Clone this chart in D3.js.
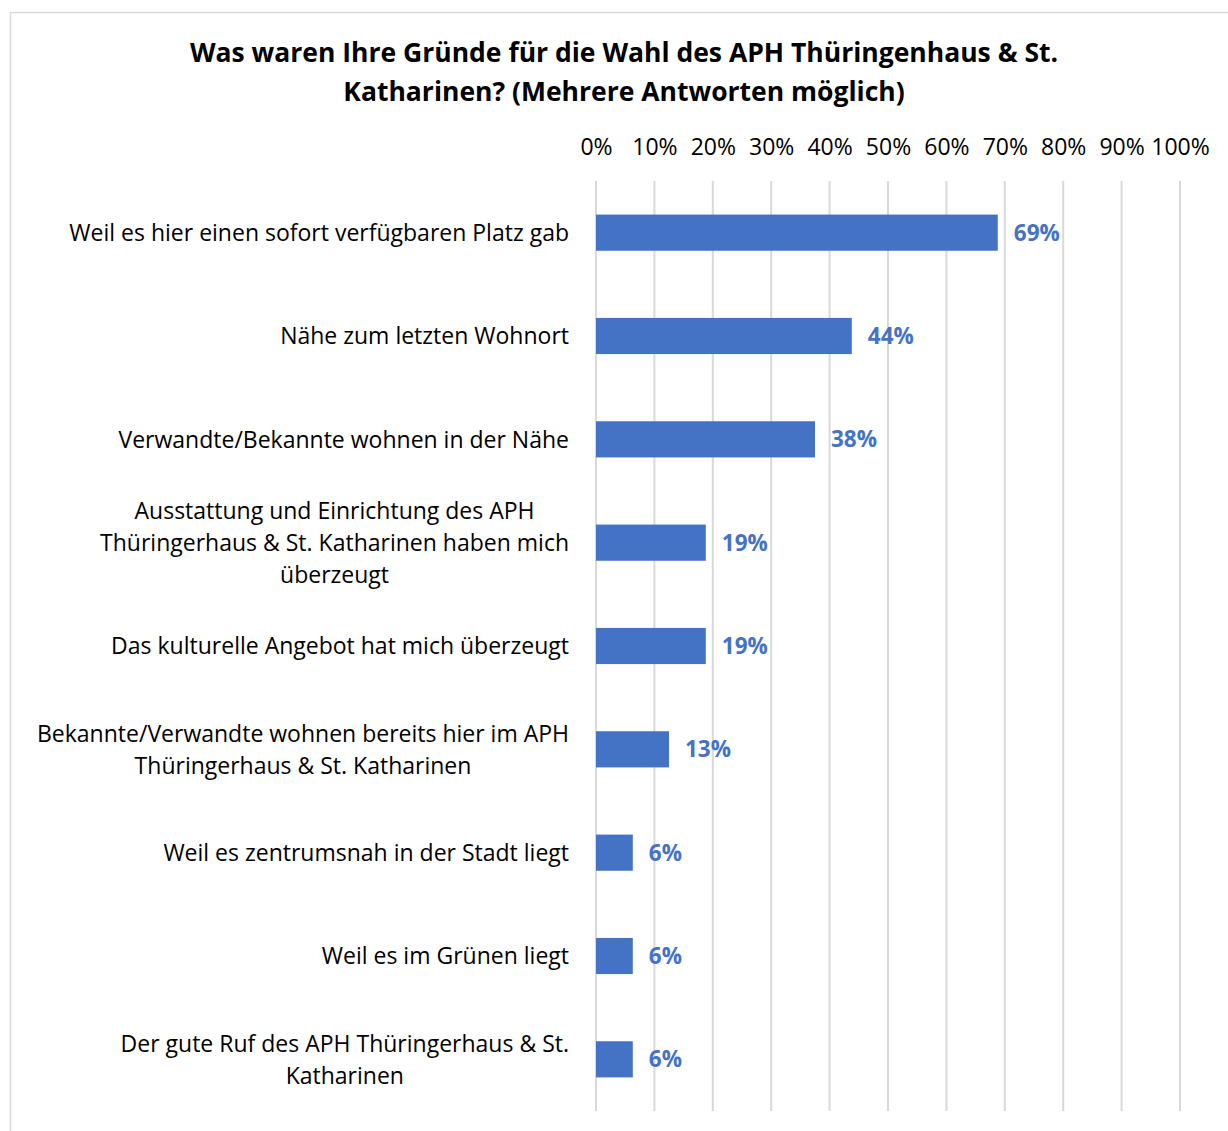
<!DOCTYPE html>
<html>
<head>
<meta charset="utf-8">
<script src="https://cdn.jsdelivr.net/npm/d3@7"></script>
<style>
  body { margin: 0; background: #fff; }
  text { font-family: "Open Sans", "Noto Sans", sans-serif; }
</style>
</head>
<body>
<div id="chart"></div>
<script>
// data
var categories = [
  ["Weil es hier einen sofort verfügbaren Platz gab"],
  ["Nähe zum letzten Wohnort"],
  ["Verwandte/Bekannte wohnen in der Nähe"],
  ["Ausstattung und Einrichtung des APH", "Thüringerhaus & St. Katharinen haben mich", "überzeugt"],
  ["Das kulturelle Angebot hat mich überzeugt"],
  ["Bekannte/Verwandte wohnen bereits hier im APH", "Thüringerhaus & St. Katharinen"],
  ["Weil es zentrumsnah in der Stadt liegt"],
  ["Weil es im Grünen liegt"],
  ["Der gute Ruf des APH Thüringerhaus & St.", "Katharinen"]
];
var values = [68.8, 43.8, 37.5, 18.8, 18.8, 12.5, 6.3, 6.3, 6.3];
var ticks = [0, 10, 20, 30, 40, 50, 60, 70, 80, 90, 100];
var titleLines = ["Was waren Ihre Gründe für die Wahl des APH Thüringenhaus & St.",
                  "Katharinen? (Mehrere Antworten möglich)"];

var W = 1228, H = 1131;
var plot = {left: 596, right: 1180, top: 181, bottom: 1111};
var labelRight = 569;

var svg = d3.select("#chart").append("svg")
    .attr("width", W)
    .attr("height", H);

// chart border
svg.append("rect")
   .attr("x", 10.5).attr("y", 12.5)
   .attr("width", W + 10).attr("height", H + 10)
   .attr("fill", "none")
   .attr("stroke", "#d9d9d9")
   .attr("stroke-width", 1.5);

var x = d3.scaleLinear().domain([0, 100]).range([plot.left, plot.right]);
var y = d3.scaleBand()
    .domain(d3.range(categories.length))
    .range([plot.top, plot.bottom])
    .paddingInner(0.65)
    .paddingOuter(0.325);

// title
svg.append("text")
   .attr("x", 624).attr("y", 62)
   .attr("text-anchor", "middle")
   .attr("font-size", "26.5px")
   .attr("font-weight", "bold")
   .attr("fill", "#000")
   .selectAll("tspan")
   .data(titleLines)
   .enter().append("tspan")
   .attr("x", 624)
   .attr("dy", function(d, i) { return i ? 39 : 0; })
   .text(function(d) { return d; });

// gridlines
svg.append("g")
   .selectAll("line")
   .data(ticks)
   .enter().append("line")
   .attr("x1", function(d) { return x(d); })
   .attr("x2", function(d) { return x(d); })
   .attr("y1", plot.top)
   .attr("y2", plot.bottom)
   .attr("stroke", "#d9d9d9")
   .attr("stroke-width", 2);

// top axis labels
var axis = svg.append("g")
   .attr("transform", "translate(0," + 155 + ")")
   .call(d3.axisTop(x).tickValues(ticks).tickSize(0).tickPadding(0)
         .tickFormat(function(d) { return d + "%"; }));
axis.select(".domain").remove();
axis.selectAll("text")
    .attr("font-size", "23px")
    .attr("fill", "#000")
    .attr("font-family", "'Open Sans', 'Noto Sans', sans-serif");

// bars
svg.append("g")
   .selectAll("rect")
   .data(values)
   .enter().append("rect")
   .attr("x", x(0))
   .attr("y", function(d, i) { return y(i); })
   .attr("width", function(d) { return x(d) - x(0); })
   .attr("height", y.bandwidth())
   .attr("fill", "#4472c4");

// data labels
svg.append("g")
   .selectAll("text")
   .data(values)
   .enter().append("text")
   .attr("x", function(d) { return x(d) + 16; })
   .attr("y", function(d, i) { return y(i) + y.bandwidth() / 2; })
   .attr("dy", "0.36em")
   .attr("font-size", "22.5px")
   .attr("font-weight", "bold")
   .attr("fill", "#4472c4")
   .text(function(d) { return Math.round(d) + "%"; });

// category labels (multi-line ones are centred on their widest line)
var lineH = 32;
svg.append("g")
   .selectAll("text")
   .data(categories)
   .enter().append("text")
   .attr("font-size", "23px")
   .attr("fill", "#000")
   .attr("text-anchor", function(d) { return d.length > 1 ? "middle" : "end"; })
   .each(function(d, i) {
       var cy = y(i) + y.bandwidth() / 2;
       var t = d3.select(this);
       d.forEach(function(s, k) {
           t.append("tspan")
            .attr("x", labelRight)
            .attr("y", cy + (k - (d.length - 1) / 2) * lineH)
            .attr("dy", "0.36em")
            .text(s);
       });
       if (d.length > 1) {
           var maxW = 0;
           t.selectAll("tspan").each(function() {
               maxW = Math.max(maxW, this.getComputedTextLength());
           });
           t.selectAll("tspan").attr("x", labelRight - maxW / 2);
       }
   });
</script>
</body>
</html>
